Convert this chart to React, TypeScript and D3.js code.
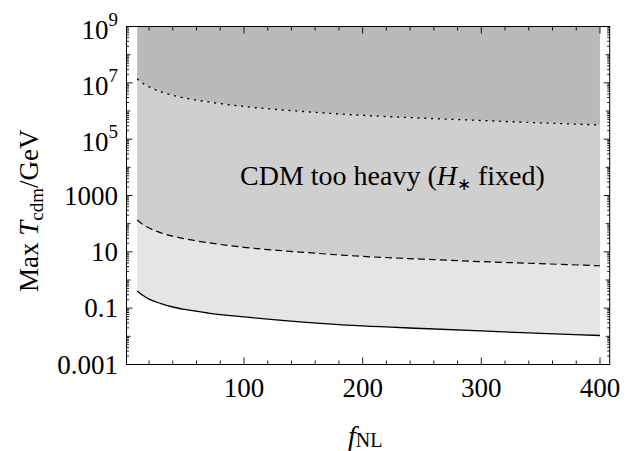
import React from "react";
import * as d3 from "d3";

const fNL = [10, 15, 20, 30, 40, 50, 70, 100, 150, 200, 250, 300, 350, 400];
const solidBound = [0.41, 0.28, 0.21, 0.145, 0.11, 0.09, 0.067, 0.049, 0.032, 0.0235, 0.019, 0.0155, 0.0128, 0.0107];
const dashedBound = [135, 92, 70, 47, 36, 29, 21, 14.5, 9.6, 6.9, 5.5, 4.5, 3.8, 3.2];
const dottedBound = [1.4e7, 9.5e6, 7.2e6, 4.8e6, 3.6e6, 2.9e6, 2.1e6, 1.45e6, 9.6e5, 7.0e5, 5.6e5, 4.6e5, 3.8e5, 3.2e5];

const xTickValues = [100, 200, 300, 400];
const xTickLabels = ["100", "200", "300", "400"];
const yTickExps = [9, 7, 5, 3, 1, -1, -3];
const yTickLabels = ["10^9", "10^7", "10^5", "1000", "10", "0.1", "0.001"];
const regionLabel = "CDM too heavy";

const W = 635;
const H = 451;
const L = 126.5, R = 609.7, T = 26.5, B = 364.5;
const FONT = "'Liberation Serif', 'Times New Roman', serif";

export default function App() {
  const x = d3.scaleLinear().domain([1.0, 408.2]).range([L, R]);
  const y = d3.scaleLog().domain([1e-3, 1e9]).range([B, T]);
  const curve = d3.curveMonotoneX;

  const pts = fNL.map((f, i) => ({ f, s: solidBound[i], d: dashedBound[i], o: dottedBound[i] }));

  const areaTop = d3.area<any>().x((p) => x(p.f)).y0(() => y(1e9)).y1((p) => y(p.o)).curve(curve);
  const areaMid = d3.area<any>().x((p) => x(p.f)).y0((p) => y(p.o)).y1((p) => y(p.d)).curve(curve);
  const areaLow = d3.area<any>().x((p) => x(p.f)).y0((p) => y(p.d)).y1((p) => y(p.s)).curve(curve);

  const line = (key: string) => d3.line<any>().x((p) => x(p.f)).y((p) => y(p[key])).curve(curve)(pts) as string;

  const xMinor: number[] = [];
  for (let v = 20; v <= 400; v += 20) if (v % 100 !== 0) xMinor.push(v);

  const yMajor = yTickExps.map((e) => Math.pow(10, e));
  const yMed: number[] = [];
  const yMinor: number[] = [];
  for (let e = -3; e < 9; e++) {
    if (!yTickExps.includes(e)) yMed.push(Math.pow(10, e));
    for (let j = 2; j <= 9; j++) yMinor.push(j * Math.pow(10, e));
  }

  const tickLines: React.ReactNode[] = [];
  const addX = (v: number, len: number, k: string) => {
    const px = x(v);
    tickLines.push(<line key={"xb" + k} x1={px} x2={px} y1={B} y2={B - len} stroke="#000" strokeWidth={0.9} />);
    tickLines.push(<line key={"xt" + k} x1={px} x2={px} y1={T} y2={T + len} stroke="#000" strokeWidth={0.9} />);
  };
  xTickValues.forEach((v, i) => addX(v, 7, "M" + i));
  xMinor.forEach((v, i) => addX(v, 4, "m" + i));
  const addY = (v: number, len: number, k: string) => {
    const py = y(v);
    tickLines.push(<line key={"yl" + k} x1={L} x2={L + len} y1={py} y2={py} stroke="#000" strokeWidth={0.9} />);
    tickLines.push(<line key={"yr" + k} x1={R} x2={R - len} y1={py} y2={py} stroke="#000" strokeWidth={0.9} />);
  };
  yMajor.forEach((v, i) => addY(v, 6, "M" + i));
  yMed.forEach((v, i) => addY(v, 4, "d" + i));
  yMinor.forEach((v, i) => addY(v, 2.5, "m" + i));

  return (
    <svg width={W} height={H} style={{ position: "absolute", left: 0, top: 0, background: "#fff" }} fontFamily={FONT}>
      <rect x={0} y={0} width={W} height={H} fill="#fff" />
      <path d={areaTop(pts) as string} fill="#bababa" />
      <path d={areaMid(pts) as string} fill="#cfcfcf" />
      <path d={areaLow(pts) as string} fill="#e5e5e5" />
      <path d={line("o")} fill="none" stroke="#000" strokeWidth={1.3} strokeDasharray="2.2,4.6" />
      <path d={line("d")} fill="none" stroke="#000" strokeWidth={1.2} strokeDasharray="7,4" />
      <path d={line("s")} fill="none" stroke="#000" strokeWidth={1.3} />
      {tickLines}
      <rect x={L} y={T} width={R - L} height={B - T} fill="none" stroke="#000" strokeWidth={1} />
      {xTickValues.map((v, i) => (
        <text key={"xl" + i} x={x(v)} y={397} fontSize={27} textAnchor="middle">{xTickLabels[i]}</text>
      ))}
      {yTickLabels.map((lab, i) => {
        const py = y(yMajor[i]);
        if (lab.includes("^")) {
          const [b, e] = lab.split("^");
          return (
            <text key={"yl" + i} x={118} y={py + 12} fontSize={27} textAnchor="end">
              {b}
              <tspan fontSize={19} dy={-13}>{e}</tspan>
            </text>
          );
        }
        return (
          <text key={"yl" + i} x={118} y={py + 9} fontSize={27} textAnchor="end">{lab}</text>
        );
      })}
      <text x={240} y={185} fontSize={28}>
        {regionLabel + " ("}
        <tspan fontStyle="italic">H</tspan>
        <tspan fontSize={17} dy={5}>{"\u2217"}</tspan>
        <tspan dy={-5}>{" fixed)"}</tspan>
      </text>
      <text transform="translate(38,292) rotate(-90)" fontSize={27}>
        {"Max "}
        <tspan fontStyle="italic">T</tspan>
        <tspan fontSize={19} dy={5}>cdm</tspan>
        <tspan dy={-5}>/GeV</tspan>
      </text>
      <text x={348} y={445} fontSize={28}>
        <tspan fontStyle="italic">f</tspan>
        <tspan fontSize={20} dy={2}>NL</tspan>
      </text>
    </svg>
  );
}
